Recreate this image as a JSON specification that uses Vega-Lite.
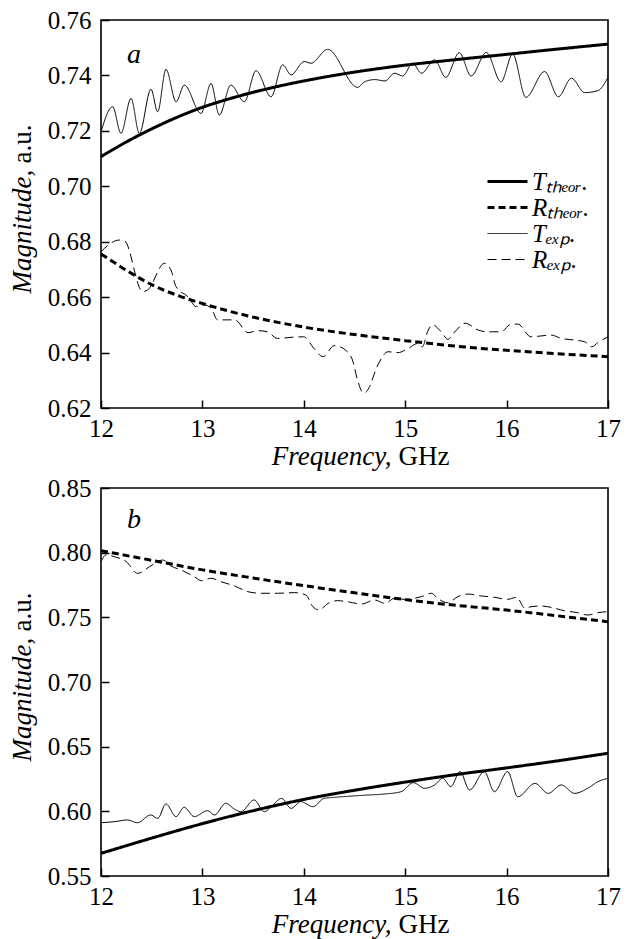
{
  "$schema": "https://vega.github.io/schema/vega-lite/v6.json",
  "padding": {"left": 7, "top": 7, "right": 20, "bottom": 5},
  "bounds": "flush",
  "spacing": 80,
  "datasets": {
    "a": [
      {"s": "T_theor", "f": 12.0, "v": 0.7107},
      {"s": "T_theor", "f": 12.25, "v": 0.716},
      {"s": "T_theor", "f": 12.5, "v": 0.7207},
      {"s": "T_theor", "f": 12.75, "v": 0.7249},
      {"s": "T_theor", "f": 13.0, "v": 0.7285},
      {"s": "T_theor", "f": 13.25, "v": 0.7314},
      {"s": "T_theor", "f": 13.5, "v": 0.7339},
      {"s": "T_theor", "f": 13.75, "v": 0.7361},
      {"s": "T_theor", "f": 14.0, "v": 0.738},
      {"s": "T_theor", "f": 14.5, "v": 0.7412},
      {"s": "T_theor", "f": 15.0, "v": 0.7437},
      {"s": "T_theor", "f": 15.5, "v": 0.7457},
      {"s": "T_theor", "f": 16.0, "v": 0.7476},
      {"s": "T_theor", "f": 16.5, "v": 0.7495},
      {"s": "T_theor", "f": 17.0, "v": 0.7513},
      {"s": "R_theor", "f": 12.0, "v": 0.6756},
      {"s": "R_theor", "f": 12.25, "v": 0.6697},
      {"s": "R_theor", "f": 12.5, "v": 0.6645},
      {"s": "R_theor", "f": 12.75, "v": 0.6607},
      {"s": "R_theor", "f": 13.0, "v": 0.6577},
      {"s": "R_theor", "f": 13.5, "v": 0.6528},
      {"s": "R_theor", "f": 14.0, "v": 0.6492},
      {"s": "R_theor", "f": 14.5, "v": 0.6465},
      {"s": "R_theor", "f": 15.0, "v": 0.6443},
      {"s": "R_theor", "f": 15.5, "v": 0.6423},
      {"s": "R_theor", "f": 16.0, "v": 0.6408},
      {"s": "R_theor", "f": 16.5, "v": 0.6396},
      {"s": "R_theor", "f": 17.0, "v": 0.6385},
      {"s": "T_exp", "f": 12.0, "v": 0.7197},
      {"s": "T_exp", "f": 12.115, "v": 0.7287},
      {"s": "T_exp", "f": 12.197, "v": 0.7191},
      {"s": "T_exp", "f": 12.296, "v": 0.7317},
      {"s": "T_exp", "f": 12.378, "v": 0.7191},
      {"s": "T_exp", "f": 12.493, "v": 0.735},
      {"s": "T_exp", "f": 12.559, "v": 0.7269},
      {"s": "T_exp", "f": 12.641, "v": 0.7422},
      {"s": "T_exp", "f": 12.74, "v": 0.7305},
      {"s": "T_exp", "f": 12.822, "v": 0.7365},
      {"s": "T_exp", "f": 12.986, "v": 0.7263},
      {"s": "T_exp", "f": 13.085, "v": 0.7371},
      {"s": "T_exp", "f": 13.167, "v": 0.7257},
      {"s": "T_exp", "f": 13.28, "v": 0.7365},
      {"s": "T_exp", "f": 13.414, "v": 0.7305},
      {"s": "T_exp", "f": 13.529, "v": 0.7417},
      {"s": "T_exp", "f": 13.677, "v": 0.7323},
      {"s": "T_exp", "f": 13.792, "v": 0.7438},
      {"s": "T_exp", "f": 13.874, "v": 0.7402},
      {"s": "T_exp", "f": 14.005, "v": 0.745},
      {"s": "T_exp", "f": 14.071, "v": 0.7444},
      {"s": "T_exp", "f": 14.235, "v": 0.7494},
      {"s": "T_exp", "f": 14.531, "v": 0.7357},
      {"s": "T_exp", "f": 14.6, "v": 0.7377},
      {"s": "T_exp", "f": 14.7, "v": 0.7385},
      {"s": "T_exp", "f": 14.8, "v": 0.738},
      {"s": "T_exp", "f": 14.895, "v": 0.7408},
      {"s": "T_exp", "f": 14.975, "v": 0.7398},
      {"s": "T_exp", "f": 15.074, "v": 0.7444},
      {"s": "T_exp", "f": 15.16, "v": 0.7408},
      {"s": "T_exp", "f": 15.29, "v": 0.7456},
      {"s": "T_exp", "f": 15.4, "v": 0.7393},
      {"s": "T_exp", "f": 15.534, "v": 0.7482},
      {"s": "T_exp", "f": 15.65, "v": 0.7398},
      {"s": "T_exp", "f": 15.8, "v": 0.7483},
      {"s": "T_exp", "f": 15.945, "v": 0.7377},
      {"s": "T_exp", "f": 16.06, "v": 0.7477},
      {"s": "T_exp", "f": 16.19, "v": 0.7321},
      {"s": "T_exp", "f": 16.375, "v": 0.7414},
      {"s": "T_exp", "f": 16.51, "v": 0.7323},
      {"s": "T_exp", "f": 16.64, "v": 0.739},
      {"s": "T_exp", "f": 16.77, "v": 0.7338},
      {"s": "T_exp", "f": 16.9, "v": 0.7345},
      {"s": "T_exp", "f": 17.0, "v": 0.7393},
      {"s": "R_exp", "f": 12.0, "v": 0.6764},
      {"s": "R_exp", "f": 12.18, "v": 0.6806},
      {"s": "R_exp", "f": 12.23, "v": 0.6804},
      {"s": "R_exp", "f": 12.41, "v": 0.662},
      {"s": "R_exp", "f": 12.46, "v": 0.6626},
      {"s": "R_exp", "f": 12.625, "v": 0.6722},
      {"s": "R_exp", "f": 12.69, "v": 0.6698},
      {"s": "R_exp", "f": 12.74, "v": 0.6638},
      {"s": "R_exp", "f": 12.855, "v": 0.6602},
      {"s": "R_exp", "f": 12.94, "v": 0.6566},
      {"s": "R_exp", "f": 13.02, "v": 0.6572},
      {"s": "R_exp", "f": 13.085, "v": 0.656},
      {"s": "R_exp", "f": 13.15, "v": 0.6518},
      {"s": "R_exp", "f": 13.32, "v": 0.6518},
      {"s": "R_exp", "f": 13.45, "v": 0.6472},
      {"s": "R_exp", "f": 13.55, "v": 0.6479},
      {"s": "R_exp", "f": 13.64, "v": 0.6475},
      {"s": "R_exp", "f": 13.74, "v": 0.6451},
      {"s": "R_exp", "f": 13.875, "v": 0.6455},
      {"s": "R_exp", "f": 14.0, "v": 0.6457},
      {"s": "R_exp", "f": 14.1, "v": 0.6415},
      {"s": "R_exp", "f": 14.19, "v": 0.6385},
      {"s": "R_exp", "f": 14.3, "v": 0.6425},
      {"s": "R_exp", "f": 14.43, "v": 0.6403},
      {"s": "R_exp", "f": 14.48, "v": 0.6373},
      {"s": "R_exp", "f": 14.53, "v": 0.6301},
      {"s": "R_exp", "f": 14.59, "v": 0.6253},
      {"s": "R_exp", "f": 14.63, "v": 0.6265},
      {"s": "R_exp", "f": 14.73, "v": 0.6355},
      {"s": "R_exp", "f": 14.83, "v": 0.6403},
      {"s": "R_exp", "f": 14.93, "v": 0.64},
      {"s": "R_exp", "f": 15.03, "v": 0.6415},
      {"s": "R_exp", "f": 15.125, "v": 0.6433},
      {"s": "R_exp", "f": 15.17, "v": 0.6421},
      {"s": "R_exp", "f": 15.22, "v": 0.6475},
      {"s": "R_exp", "f": 15.27, "v": 0.65},
      {"s": "R_exp", "f": 15.355, "v": 0.6475},
      {"s": "R_exp", "f": 15.42, "v": 0.6448},
      {"s": "R_exp", "f": 15.49, "v": 0.6475},
      {"s": "R_exp", "f": 15.59, "v": 0.6506},
      {"s": "R_exp", "f": 15.72, "v": 0.6481},
      {"s": "R_exp", "f": 15.82, "v": 0.6475},
      {"s": "R_exp", "f": 15.95, "v": 0.6475},
      {"s": "R_exp", "f": 16.03, "v": 0.65},
      {"s": "R_exp", "f": 16.11, "v": 0.6503},
      {"s": "R_exp", "f": 16.24, "v": 0.6457},
      {"s": "R_exp", "f": 16.34, "v": 0.646},
      {"s": "R_exp", "f": 16.44, "v": 0.6463},
      {"s": "R_exp", "f": 16.54, "v": 0.6451},
      {"s": "R_exp", "f": 16.67, "v": 0.6445},
      {"s": "R_exp", "f": 16.77, "v": 0.6439},
      {"s": "R_exp", "f": 16.84, "v": 0.6421},
      {"s": "R_exp", "f": 16.9, "v": 0.6436},
      {"s": "R_exp", "f": 17.0, "v": 0.6457}
    ],
    "b": [
      {"s": "T_theor", "f": 12.0, "v": 0.5675},
      {"s": "T_theor", "f": 12.5, "v": 0.5793},
      {"s": "T_theor", "f": 13.0, "v": 0.5905},
      {"s": "T_theor", "f": 13.5, "v": 0.6005},
      {"s": "T_theor", "f": 14.0, "v": 0.6092},
      {"s": "T_theor", "f": 14.5, "v": 0.6163},
      {"s": "T_theor", "f": 15.0, "v": 0.6226},
      {"s": "T_theor", "f": 15.5, "v": 0.6284},
      {"s": "T_theor", "f": 16.0, "v": 0.6336},
      {"s": "T_theor", "f": 16.5, "v": 0.639},
      {"s": "T_theor", "f": 17.0, "v": 0.6449},
      {"s": "R_theor", "f": 12.0, "v": 0.8015},
      {"s": "R_theor", "f": 12.5, "v": 0.7941},
      {"s": "R_theor", "f": 13.0, "v": 0.7867},
      {"s": "R_theor", "f": 13.5, "v": 0.7804},
      {"s": "R_theor", "f": 14.0, "v": 0.7745},
      {"s": "R_theor", "f": 14.5, "v": 0.769},
      {"s": "R_theor", "f": 15.0, "v": 0.7637},
      {"s": "R_theor", "f": 15.5, "v": 0.7593},
      {"s": "R_theor", "f": 16.0, "v": 0.7556},
      {"s": "R_theor", "f": 16.5, "v": 0.7512},
      {"s": "R_theor", "f": 17.0, "v": 0.7466},
      {"s": "T_exp", "f": 12.0, "v": 0.5912},
      {"s": "T_exp", "f": 12.13, "v": 0.592},
      {"s": "T_exp", "f": 12.26, "v": 0.5933},
      {"s": "T_exp", "f": 12.36, "v": 0.5912},
      {"s": "T_exp", "f": 12.49, "v": 0.5972},
      {"s": "T_exp", "f": 12.56, "v": 0.5946},
      {"s": "T_exp", "f": 12.64, "v": 0.6057},
      {"s": "T_exp", "f": 12.74, "v": 0.5959},
      {"s": "T_exp", "f": 12.82, "v": 0.6031},
      {"s": "T_exp", "f": 12.92, "v": 0.5959},
      {"s": "T_exp", "f": 13.05, "v": 0.6005},
      {"s": "T_exp", "f": 13.12, "v": 0.5972},
      {"s": "T_exp", "f": 13.23, "v": 0.6062},
      {"s": "T_exp", "f": 13.32, "v": 0.6015},
      {"s": "T_exp", "f": 13.38, "v": 0.5997},
      {"s": "T_exp", "f": 13.51, "v": 0.6088},
      {"s": "T_exp", "f": 13.61, "v": 0.5997},
      {"s": "T_exp", "f": 13.68, "v": 0.6036},
      {"s": "T_exp", "f": 13.78, "v": 0.61},
      {"s": "T_exp", "f": 13.875, "v": 0.6023},
      {"s": "T_exp", "f": 13.97, "v": 0.6075},
      {"s": "T_exp", "f": 14.09, "v": 0.6036},
      {"s": "T_exp", "f": 14.2, "v": 0.61},
      {"s": "T_exp", "f": 14.3, "v": 0.6108},
      {"s": "T_exp", "f": 14.47, "v": 0.6118},
      {"s": "T_exp", "f": 14.63, "v": 0.6126},
      {"s": "T_exp", "f": 14.8, "v": 0.6134},
      {"s": "T_exp", "f": 14.96, "v": 0.6152},
      {"s": "T_exp", "f": 15.08, "v": 0.6222},
      {"s": "T_exp", "f": 15.19, "v": 0.6178},
      {"s": "T_exp", "f": 15.29, "v": 0.6204},
      {"s": "T_exp", "f": 15.37, "v": 0.6255},
      {"s": "T_exp", "f": 15.45, "v": 0.6191},
      {"s": "T_exp", "f": 15.54, "v": 0.6307},
      {"s": "T_exp", "f": 15.635, "v": 0.6165},
      {"s": "T_exp", "f": 15.78, "v": 0.6307},
      {"s": "T_exp", "f": 15.88, "v": 0.6152},
      {"s": "T_exp", "f": 16.01, "v": 0.6307},
      {"s": "T_exp", "f": 16.11, "v": 0.6113},
      {"s": "T_exp", "f": 16.28, "v": 0.6216},
      {"s": "T_exp", "f": 16.41, "v": 0.6139},
      {"s": "T_exp", "f": 16.54, "v": 0.6204},
      {"s": "T_exp", "f": 16.67, "v": 0.6139},
      {"s": "T_exp", "f": 16.8, "v": 0.6178},
      {"s": "T_exp", "f": 16.9, "v": 0.6229},
      {"s": "T_exp", "f": 17.0, "v": 0.6255},
      {"s": "R_exp", "f": 12.0, "v": 0.793},
      {"s": "R_exp", "f": 12.05, "v": 0.7982},
      {"s": "R_exp", "f": 12.13, "v": 0.7969},
      {"s": "R_exp", "f": 12.25, "v": 0.793},
      {"s": "R_exp", "f": 12.36, "v": 0.784},
      {"s": "R_exp", "f": 12.48, "v": 0.7892},
      {"s": "R_exp", "f": 12.61, "v": 0.7943},
      {"s": "R_exp", "f": 12.69, "v": 0.7897},
      {"s": "R_exp", "f": 12.79, "v": 0.7866},
      {"s": "R_exp", "f": 12.92, "v": 0.7814},
      {"s": "R_exp", "f": 12.99, "v": 0.7783},
      {"s": "R_exp", "f": 13.085, "v": 0.7802},
      {"s": "R_exp", "f": 13.18, "v": 0.7776},
      {"s": "R_exp", "f": 13.32, "v": 0.7742},
      {"s": "R_exp", "f": 13.45, "v": 0.7698},
      {"s": "R_exp", "f": 13.58, "v": 0.7686},
      {"s": "R_exp", "f": 13.74, "v": 0.7686},
      {"s": "R_exp", "f": 13.91, "v": 0.7691},
      {"s": "R_exp", "f": 14.02, "v": 0.7673},
      {"s": "R_exp", "f": 14.09, "v": 0.7582},
      {"s": "R_exp", "f": 14.15, "v": 0.7557},
      {"s": "R_exp", "f": 14.24, "v": 0.7608},
      {"s": "R_exp", "f": 14.335, "v": 0.7629},
      {"s": "R_exp", "f": 14.43, "v": 0.7621},
      {"s": "R_exp", "f": 14.57, "v": 0.7603},
      {"s": "R_exp", "f": 14.7, "v": 0.7634},
      {"s": "R_exp", "f": 14.8, "v": 0.7608},
      {"s": "R_exp", "f": 14.895, "v": 0.7647},
      {"s": "R_exp", "f": 14.99, "v": 0.7639},
      {"s": "R_exp", "f": 15.16, "v": 0.766},
      {"s": "R_exp", "f": 15.26, "v": 0.7686},
      {"s": "R_exp", "f": 15.32, "v": 0.7647},
      {"s": "R_exp", "f": 15.42, "v": 0.7613},
      {"s": "R_exp", "f": 15.52, "v": 0.766},
      {"s": "R_exp", "f": 15.62, "v": 0.768},
      {"s": "R_exp", "f": 15.75, "v": 0.7665},
      {"s": "R_exp", "f": 15.88, "v": 0.7655},
      {"s": "R_exp", "f": 16.01, "v": 0.7639},
      {"s": "R_exp", "f": 16.1, "v": 0.7655},
      {"s": "R_exp", "f": 16.18, "v": 0.757},
      {"s": "R_exp", "f": 16.24, "v": 0.7582},
      {"s": "R_exp", "f": 16.34, "v": 0.7588},
      {"s": "R_exp", "f": 16.44, "v": 0.7577},
      {"s": "R_exp", "f": 16.57, "v": 0.7551},
      {"s": "R_exp", "f": 16.7, "v": 0.7536},
      {"s": "R_exp", "f": 16.8, "v": 0.7518},
      {"s": "R_exp", "f": 16.9, "v": 0.7536},
      {"s": "R_exp", "f": 17.0, "v": 0.7544}
    ]
  },
  "vconcat": [
    {
      "width": 507,
      "height": 388,
      "layer": [
        {
          "data": {"name": "a"},
          "mark": {"type": "line", "interpolate": "monotone", "color": "black"},
          "encoding": {
            "x": {"field": "f", "type": "quantitative", "scale": {"domain": [12, 17], "nice": false, "zero": false},
              "axis": {"orient": "bottom", "offset": -8, "tickSize": 8, "labelPadding": 8, "format": "d", "values": [12, 12.5, 13, 13.5, 14, 14.5, 15, 15.5, 16, 16.5, 17], "labelExpr": "datum.value % 1 == 0 ? datum.label : ''", "title": "Frequency,", "titleFontStyle": "italic", "titleAlign": "right", "titleX": 290, "titleY": 64, "titleBaseline": "alphabetic"}},
            "y": {"field": "v", "type": "quantitative", "scale": {"domain": [0.62, 0.76], "nice": false, "zero": false},
              "axis": {"orient": "left", "offset": -8, "tickSize": 8, "labelPadding": 10, "values": [0.62, 0.64, 0.66, 0.68, 0.7, 0.72, 0.74, 0.76], "format": ".2f", "title": "Magnitude,", "titleFontStyle": "italic", "titleAngle": 270, "titleAlign": "left", "titleX": -79, "titleY": 273, "titleBaseline": "alphabetic"}},
            "strokeDash": {"field": "s", "type": "nominal", "scale": {"domain": ["T_theor", "R_theor", "T_exp", "R_exp"], "range": [[1, 0], [7, 4], [1, 0], [9, 5]]},
              "legend": {"title": null, "orient": "none", "legendX": 374, "legendY": 149, "labelExpr": "datum.value == 'T_theor' ? 'Tₜₕₑₒᵣ.' : datum.value == 'R_theor' ? 'Rₜₕₑₒᵣ.' : datum.value == 'T_exp' ? 'Tₑₓₚ.' : 'Rₑₓₚ.'"}},
            "strokeWidth": {"field": "s", "type": "nominal", "scale": {"type": "ordinal", "domain": ["T_theor", "R_theor", "T_exp", "R_exp"], "range": [3, 3, 1, 1]},
              "legend": {"title": null, "orient": "none", "legendX": 374, "legendY": 149, "labelExpr": "datum.value == 'T_theor' ? 'Tₜₕₑₒᵣ.' : datum.value == 'R_theor' ? 'Rₜₕₑₒᵣ.' : datum.value == 'T_exp' ? 'Tₑₓₚ.' : 'Rₑₓₚ.'"}}
          }
        },
        {
          "data": {"name": "a"},
          "mark": {"type": "point", "opacity": 0, "size": 1},
          "encoding": {
            "x": {"field": "f", "type": "quantitative", "scale": {"domain": [12, 17], "nice": false, "zero": false},
              "axis": {"orient": "bottom", "labels": false, "ticks": false, "domain": false, "title": "GHz", "titleFontStyle": "normal", "titleAlign": "left", "titleX": 297, "titleY": 56, "titleBaseline": "alphabetic"}},
            "y": {"field": "v", "type": "quantitative", "scale": {"domain": [0.62, 0.76], "nice": false, "zero": false},
              "axis": {"orient": "left", "labels": false, "ticks": false, "domain": false, "title": "a.u.", "titleFontStyle": "normal", "titleAngle": 270, "titleAlign": "left", "titleX": -71, "titleY": 143, "titleBaseline": "alphabetic"}}
          }
        },
        {
          "data": {"values": [{"panel": "a"}]},
          "mark": {"type": "text", "font": "Liberation Serif", "fontSize": 28, "fontStyle": "italic", "align": "left", "baseline": "alphabetic", "color": "black"},
          "encoding": {
            "text": {"field": "panel"},
            "x": {"datum": 12.256, "type": "quantitative", "axis": null},
            "y": {"datum": 0.7445, "type": "quantitative", "axis": null}
          }
        }
      ],
      "resolve": {"axis": {"x": "independent", "y": "independent"}}
    },
    {
      "width": 507,
      "height": 388,
      "layer": [
        {
          "data": {"name": "b"},
          "mark": {"type": "line", "interpolate": "monotone", "color": "black"},
          "encoding": {
            "x": {"field": "f", "type": "quantitative", "scale": {"domain": [12, 17], "nice": false, "zero": false},
              "axis": {"orient": "bottom", "offset": -8, "tickSize": 8, "labelPadding": 8, "format": "d", "values": [12, 12.5, 13, 13.5, 14, 14.5, 15, 15.5, 16, 16.5, 17], "labelExpr": "datum.value % 1 == 0 ? datum.label : ''", "title": "Frequency,", "titleFontStyle": "italic", "titleAlign": "right", "titleX": 290, "titleY": 64, "titleBaseline": "alphabetic"}},
            "y": {"field": "v", "type": "quantitative", "scale": {"domain": [0.55, 0.85], "nice": false, "zero": false},
              "axis": {"orient": "left", "offset": -8, "tickSize": 8, "labelPadding": 10, "values": [0.55, 0.6, 0.65, 0.7, 0.75, 0.8, 0.85], "format": ".2f", "title": "Magnitude,", "titleFontStyle": "italic", "titleAngle": 270, "titleAlign": "left", "titleX": -79, "titleY": 273, "titleBaseline": "alphabetic"}},
            "strokeDash": {"field": "s", "type": "nominal", "scale": {"domain": ["T_theor", "R_theor", "T_exp", "R_exp"], "range": [[1, 0], [7, 4], [1, 0], [9, 5]]},
              "legend": {"title": null, "orient": "none", "legendX": 374, "legendY": 147, "labelExpr": "datum.value == 'T_theor' ? 'Tₜₕₑₒᵣ.' : datum.value == 'R_theor' ? 'Rₜₕₑₒᵣ.' : datum.value == 'T_exp' ? 'Tₑₓₚ.' : 'Rₑₓₚ.'"}},
            "strokeWidth": {"field": "s", "type": "nominal", "scale": {"type": "ordinal", "domain": ["T_theor", "R_theor", "T_exp", "R_exp"], "range": [3, 3, 1, 1]},
              "legend": {"title": null, "orient": "none", "legendX": 374, "legendY": 147, "labelExpr": "datum.value == 'T_theor' ? 'Tₜₕₑₒᵣ.' : datum.value == 'R_theor' ? 'Rₜₕₑₒᵣ.' : datum.value == 'T_exp' ? 'Tₑₓₚ.' : 'Rₑₓₚ.'"}}
          }
        },
        {
          "data": {"name": "b"},
          "mark": {"type": "point", "opacity": 0, "size": 1},
          "encoding": {
            "x": {"field": "f", "type": "quantitative", "scale": {"domain": [12, 17], "nice": false, "zero": false},
              "axis": {"orient": "bottom", "labels": false, "ticks": false, "domain": false, "title": "GHz", "titleFontStyle": "normal", "titleAlign": "left", "titleX": 297, "titleY": 56, "titleBaseline": "alphabetic"}},
            "y": {"field": "v", "type": "quantitative", "scale": {"domain": [0.55, 0.85], "nice": false, "zero": false},
              "axis": {"orient": "left", "labels": false, "ticks": false, "domain": false, "title": "a.u.", "titleFontStyle": "normal", "titleAngle": 270, "titleAlign": "left", "titleX": -71, "titleY": 143, "titleBaseline": "alphabetic"}}
          }
        },
        {
          "data": {"values": [{"panel": "b"}]},
          "mark": {"type": "text", "font": "Liberation Serif", "fontSize": 28, "fontStyle": "italic", "align": "left", "baseline": "alphabetic", "color": "black"},
          "encoding": {
            "text": {"field": "panel"},
            "x": {"datum": 12.256, "type": "quantitative", "axis": null},
            "y": {"datum": 0.819, "type": "quantitative", "axis": null}
          }
        }
      ],
      "resolve": {"axis": {"x": "independent", "y": "independent"}}
    }
  ],
  "config": {
    "font": "Liberation Serif",
    "background": "white",
    "view": {"stroke": "black", "strokeWidth": 1.6},
    "axis": {
      "labelFont": "Liberation Serif", "labelFontSize": 25, "labelColor": "black",
      "titleFont": "Liberation Serif", "titleFontSize": 27, "titleColor": "black", "titleFontWeight": "normal",
      "grid": false, "domain": false, "tickColor": "black", "tickWidth": 1.5,
      "labelFlush": false, "labelOverlap": false
    },
    "legend": {
      "symbolType": "M0,0H4", "symbolSize": 400, "symbolStrokeColor": "black", "symbolFillColor": "transparent",
      "labelFont": "Liberation Serif", "labelFontSize": 25, "labelFontStyle": "italic", "labelColor": "black",
      "labelOffset": 32, "rowPadding": -6, "padding": 0
    }
  }
}
